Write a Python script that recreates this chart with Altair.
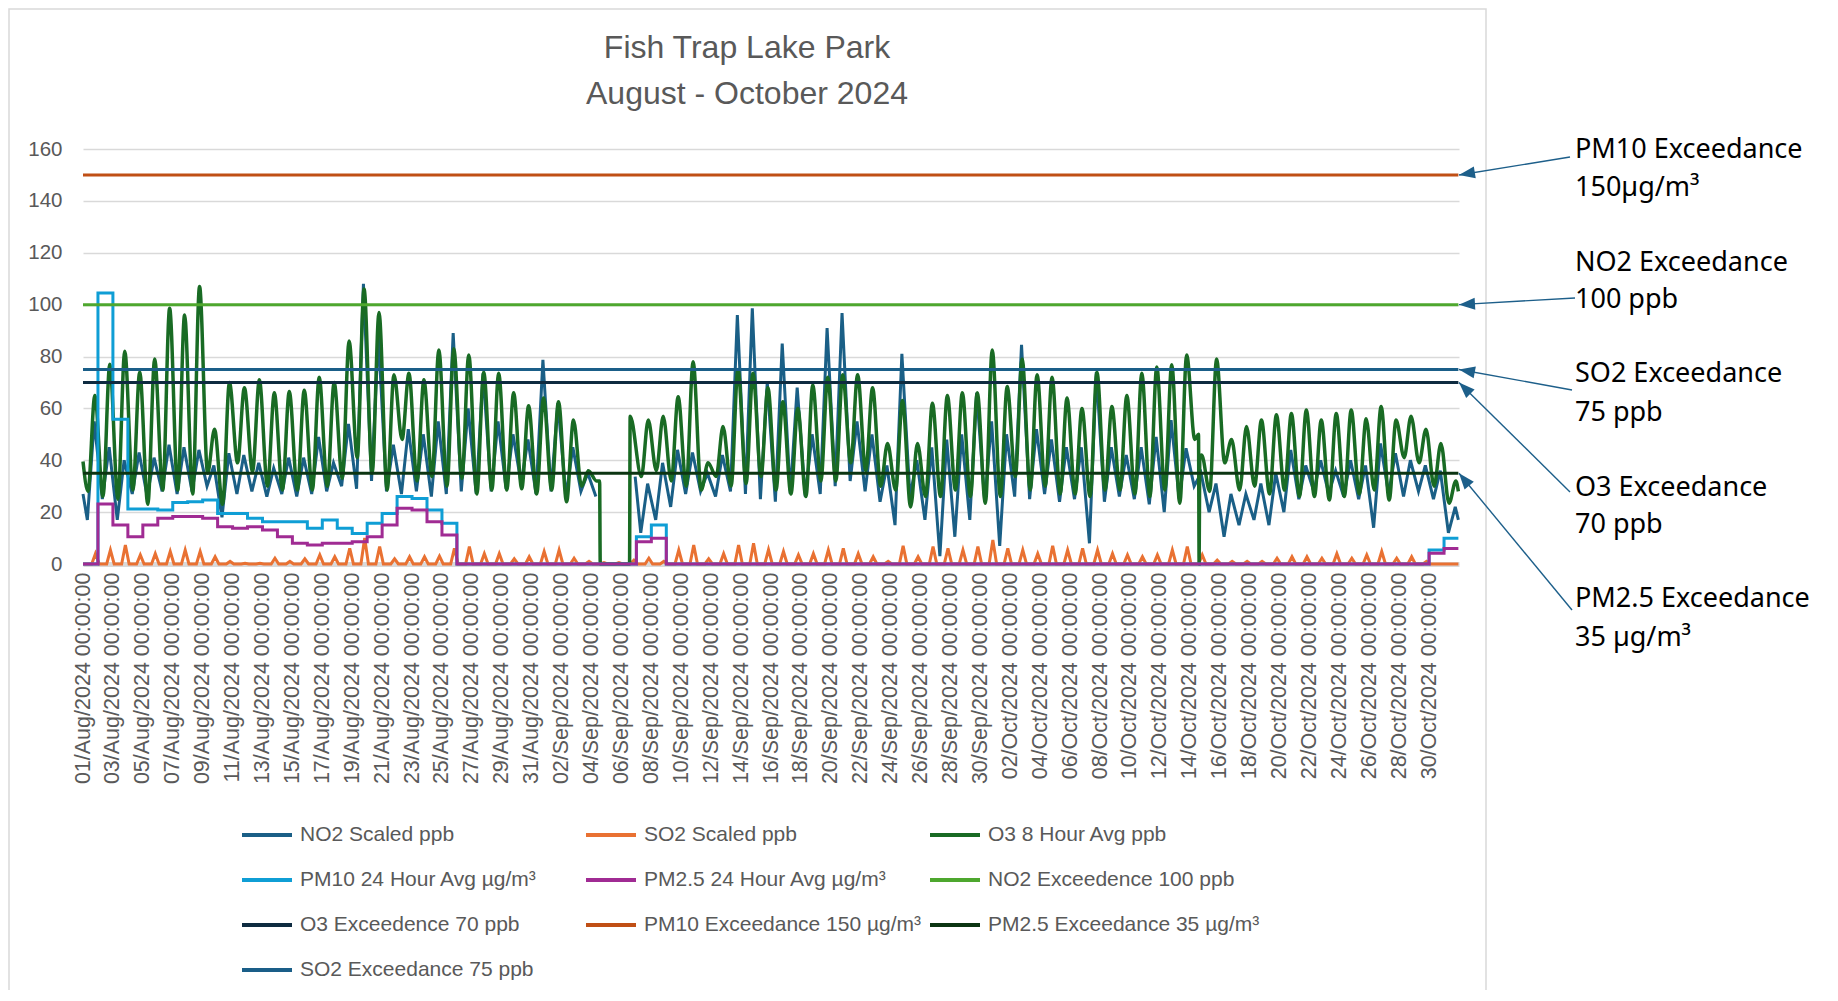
import math
import altair as alt
import pandas as pd

# ------------------------------------------------------------------ data
series_names = [
    "NO2 Scaled ppb", "SO2 Scaled ppb", "O3 8 Hour Avg ppb",
    "PM10 24 Hour Avg µg/m³", "PM2.5 24 Hour Avg µg/m³", "NO2 Exceedence 100 ppb",
    "O3 Exceedence 70 ppb", "PM10 Exceedance 150 µg/m³", "PM2.5 Exceedance 35 µg/m³",
    "SO2 Exceedance 75 ppb",
]
series_colors = [
    "#1A5F86", "#E97132", "#196B24",
    "#0F9ED5", "#A02B93", "#4EA72E",
    "#0E2B40", "#C04F15", "#0C3512",
    "#1A5E88",
]

# daily readings, index 0 = 01 Aug 2024 ... 91 = 31 Oct 2024
o3_peak = [65, 77, 82, 74, 79, 98.6, 96, 107, 52, 70, 68, 71, 66, 66.5, 67, 72, 70, 86, 106, 97,
           73, 73.5, 71, 82.5, 83, 80.6, 74, 73.5, 66, 61, 64, 62.6, 55.5, 36, None, None, None,
           55.5, 57, 64.5, 78, 39, 53, 75, 73.5, 68, 62.6, 60, 69, 72, 73, 73, 68, 46.5, 63, 46.5,
           62, 65, 66, 66, 82.5, 68.4, 79, 73, 72, 64, 60, 74, 60.7, 65, 73.5, 76, 76.8, 80.6, 42,
           79, 48, 53, 55.5, 57.5, 58, 59.4, 55.5, 58, 59.4, 56, 60.7, 55.5, 57, 52, 46.5, 32]
o3_trough = [28, 26, 25, 28.5, 23, 28.5, 28.5, 27, 35, 23, 39, 35.6, 30, 28.5, 28.5, 28.5, 30, 33, 41,
             35, 28.5, 48, 32, 33.7, 30, 33, 27, 28.5, 28.5, 29, 27, 28.5, 24, 30, 32, None, None,
             33.7, 36, 32, 30, 28.5, 33.7, 30, 31, 33.7, 28.5, 27, 26, 32, 32, 39, 36, 30, 28.5, 22,
             26, 26, 28.5, 26, 23.4, 26, 33.7, 28.5, 30, 27, 27, 26, 28.5, 28.5, 27, 26, 28.5, 23.4,
             48, 28, 39, 28.5, 30, 27, 28.5, 26, 26, 24.7, 26, 27, 28.5, 24.7, 41, 39, 30, 23.4]
o3_events = [("2024-08-01 00:00", 39.5), ("2024-09-04 13:00", 32), ("2024-09-04 14:00", 0),
             ("2024-09-06 13:00", 0), ("2024-09-06 14:00", 57), ("2024-10-14 14:00", 50),
             ("2024-10-14 15:00", 0), ("2024-10-14 16:00", 41), ("2024-10-31 23:00", 28)]

no2_peak = [55, 45, 40, 43, 41, 46, 45, 44, 38, 42.7, 42, 39, 37, 41, 41, 49, 39, 54, 108, 88,
            46, 52, 50, 55, 89, 60, 73.5, 55, 50, 48, 78.7, 62, 45, 35, None, None, None,
            31, 39, 44, 43, 35, 42, 96, 98.6, 70, 85, 68, 50, 91, 96.7, 55, 50, 38, 81, 40,
            45, 48, 50, 66, 55, 50, 84.5, 52, 48, 45, 45, 74, 45, 42, 45, 49, 55.5, 44.6, 35,
            31, 27, 27, 31, 35, 44, 38, 40, 36, 40, 38, 46.5, 42.7, 40, 38, 36, 22]
no2_trough = [17, 25, 17, 27, 26, 28, 27, 28, 30, 18, 27, 28, 26, 27, 26, 27, 28, 30, 29, 32,
              28, 27, 28, 26, 27, 28, 27, 28, 29, 31, 27, 28, 26, 28, 26, None, None,
              12, 17, 22, 27, 28, 26, 28, 27, 25, 24, 27, 26, 27, 30, 32, 28, 24, 15, 26,
              17, 3, 10.5, 17, 24, 7, 26, 25, 27, 24, 25, 8, 24, 26, 25, 23, 20, 25, 30,
              20, 10.5, 15, 17, 15, 20, 25, 28, 27, 26, 25, 14, 27, 26, 28, 25, 12]
no2_events = [("2024-08-01 00:00", 27), ("2024-09-06 22:00", 33.7), ("2024-10-31 23:00", 17)]

so2_peak = [4, 5.4, 7.3, 3.5, 4, 4.8, 5.4, 4.8, 2.8, 1, 0.3, 0.3, 2.2, 1, 2, 3.5, 2.8, 6, 10, 6.7,
            2, 2.8, 2.8, 3, 6, 6.7, 4, 4, 2, 2.8, 4.8, 5.4, 2.2, 1, 0.5, 0.5, 1.5, 2.2, 1, 5.4,
            7.3, 2, 4, 7.3, 8, 5.5, 4.8, 3.5, 4, 5.4, 6, 4, 2.8, 1, 7, 2.8, 6.7, 6, 5.4, 6.7,
            9.3, 6, 5.4, 4, 7, 5.4, 6, 5.4, 4, 3.5, 2.8, 3.5, 5.4, 6.7, 3.5, 1.5, 1, 1, 1, 2.2,
            2.8, 2.8, 2.2, 4, 2.2, 3.5, 4.8, 2.2, 2.8, 1, 0, 0]

pm10_daily = [0, 104.5, 55.8, 21.2, 21.2, 20.8, 23.7, 24, 24.7, 19.5, 19.5, 17.6, 16.3, 16.3, 16.3,
              13.8, 17, 13.8, 11.8, 15.7, 19.5, 26, 25.3, 20.8, 15.7,
              0, 0, 0, 0, 0, 0, 0, 0, 0, 0, 0, 0,
              10.5, 15,
              0, 0, 0, 0, 0, 0, 0, 0, 0, 0, 0, 0, 0, 0, 0, 0, 0, 0, 0, 0, 0, 0, 0, 0, 0, 0,
              0, 0, 0, 0, 0, 0, 0, 0, 0, 0, 0, 0, 0, 0, 0, 0, 0, 0, 0, 0, 0, 0, 0, 0, 0,
              5.4, 9.9]
pm25_daily = [0, 23.1, 15, 10.5, 15, 17.6, 18.3, 18.3, 17.6, 14.4, 13.8, 14.4, 13.1, 10.5, 8,
              7.3, 8, 8, 8.6, 10.5, 15, 21.5, 20.8, 16.3, 11.2,
              0, 0, 0, 0, 0, 0, 0, 0, 0, 0, 0, 0,
              8.6, 9.9,
              0, 0, 0, 0, 0, 0, 0, 0, 0, 0, 0, 0, 0, 0, 0, 0, 0, 0, 0, 0, 0, 0, 0, 0, 0, 0,
              0, 0, 0, 0, 0, 0, 0, 0, 0, 0, 0, 0, 0, 0, 0, 0, 0, 0, 0, 0, 0, 0, 0, 0, 0,
              4.1, 6.0]

threshold_values = [100, 70, 150, 35, 75]   # NO2, O3, PM10, PM2.5, SO2 exceedance lines
y_ticks = [0, 20, 40, 60, 80, 100, 120, 140, 160]
tick_dates = list(pd.date_range("2024-08-01", "2024-10-30", freq="2D"))

annotations = [  # two text lines, threshold it points to
    ("PM10 Exceedance", "150µg/m³", 150),
    ("NO2 Exceedance", "100 ppb", 100),
    ("SO2 Exceedance", "75 ppb", 75),
    ("O3 Exceedance", "70 ppb", 70),
    ("PM2.5 Exceedance", "35 µg/m³", 35),
]

# ------------------------------------------------------------------ layout
W, H = 1376, 415
PAD = {"left": 75, "top": 141, "right": 368, "bottom": 426}
ann_text_x = 1492
ann_line_y = [(1, 38.5), (113.6, 151), (225, 263.6), (338.6, 376), (450, 488.7)]
ann_tail = [(1487, 8), (1492, 149), (1489, 241), (1487, 343), (1489, 461)]
ARROW = "#1D5F8A"
GREY = "#595959"
FONT = "Liberation Sans"

T0 = pd.Timestamp("2024-08-01 00:00")
T_LAST = pd.Timestamp("2024-10-31 23:00")
T_END = pd.Timestamp("2024-11-01 00:00")


def at(day, hour):
    return T0 + pd.Timedelta(days=day, hours=hour)


def frame(rows, name, seg=None):
    rows = sorted(rows, key=lambda r: r[0])
    df = pd.DataFrame(rows, columns=["t", "v"])
    df["series"] = name
    if seg is not None:
        df["seg"] = [seg(t) for t in df["t"]]
    return df


# O3
rows = []
for d in range(92):
    if o3_trough[d] is not None:
        rows.append((at(d, 8), o3_trough[d]))
    if o3_peak[d] is not None:
        rows.append((at(d, 19), o3_peak[d]))
rows += [(pd.Timestamp(t), v) for t, v in o3_events]
df_o3 = frame(rows, series_names[2])

# NO2 (gap 04-06 Sep)
rows = []
for d in range(92):
    if no2_trough[d] is not None:
        rows.append((at(d, 7), no2_trough[d]))
    if no2_peak[d] is not None:
        rows.append((at(d, 18), no2_peak[d]))
rows += [(pd.Timestamp(t), v) for t, v in no2_events]
gap = pd.Timestamp("2024-09-05 12:00")
df_no2 = frame(rows, series_names[0], seg=lambda t: "a" if t < gap else "b")

# SO2
rows = [(T0, 0), (T_LAST, 0)]
for d in range(92):
    rows += [(at(d, 14), 0), (at(d, 20), so2_peak[d])]
    if d < 91:
        rows.append((at(d + 1, 2), 0))
df_so2 = frame(rows, series_names[1])

# PM daily averages
df_pm10 = frame([(at(d, 0), v) for d, v in enumerate(pm10_daily)] + [(T_LAST, pm10_daily[-1])],
                series_names[3])
df_pm25 = frame([(at(d, 0), v) for d, v in enumerate(pm25_daily)] + [(T_LAST, pm25_daily[-1])],
                series_names[4])

thr_names = [series_names[5], series_names[6], series_names[7], series_names[8], series_names[9]]
df_thr = [frame([(T0, v), (T_LAST, v)], n) for n, v in zip(thr_names, threshold_values)]

# ------------------------------------------------------------------ encodings
x_enc = alt.X(
    "t:T",
    scale=alt.Scale(domain=[alt.DateTime(year=2024, month=8, date=1),
                            alt.DateTime(year=2024, month=11, date=1)]),
    axis=alt.Axis(
        values=[alt.DateTime(year=d.year, month=d.month, date=d.day) for d in tick_dates],
        format="%d/%b/%Y %H:%M:%S", labelAngle=270, labelAlign="right",
        labelBaseline="middle", labelFontSize=21.5, labelFont=FONT, labelColor=GREY,
        labelPadding=8, labelOverlap=False, labelFlush=False, labelLimit=400,
        labelSeparation=0, labelBound=False, ticks=False, grid=False,
        domainColor="#D9D9D9", domainWidth=5, title=None,
    ),
)
y_enc = alt.Y(
    "v:Q",
    scale=alt.Scale(domain=[0, 160], nice=False),
    axis=alt.Axis(values=y_ticks, labelFontSize=20.5, labelFont=FONT, labelColor=GREY,
                  labelPadding=21, ticks=False, domain=False, grid=True,
                  gridColor="#D9D9D9", gridWidth=1.5, title=None),
)
color_enc = alt.Color(
    "series:N",
    scale=alt.Scale(domain=series_names, range=series_colors),
    legend=alt.Legend(
        title=None, orient="none", legendX=157, legendY=659, columns=3, direction="horizontal",
        symbolType="stroke", symbolSize=2500, symbolStrokeWidth=4,
        labelFont=FONT, labelFontSize=21, labelColor=GREY, labelOffset=6,
        labelLimit=0, rowPadding=8, columnPadding=0, gridAlign="all", padding=0,
    ),
)


def line(df, width=3, interp="linear", detail=False):
    enc = dict(x=x_enc, y=y_enc, color=color_enc)
    if detail:
        enc["detail"] = alt.Detail("seg:N")
    return alt.Chart(df).mark_line(strokeWidth=width, interpolate=interp).encode(**enc)


layers = [
    line(df_no2, 3, "linear", detail=True),
    line(df_so2, 3, "linear"),
    line(df_o3, 3.5, "monotone"),
    line(df_pm10, 3, "step-after"),
    line(df_pm25, 3, "step-after"),
]
layers += [line(df, 3) for df in df_thr]

one = pd.DataFrame({"k": [0]})

# chart area border
layers.append(alt.Chart(one).mark_rect(fillOpacity=0, stroke="#D9D9D9", strokeWidth=1.5).encode(
    x=alt.value(-74), x2=alt.value(1403), y=alt.value(-140), y2=alt.value(870)))

# title
for txt, ty in [("Fish Trap Lake  Park", -101), ("August - October 2024", -55)]:
    layers.append(alt.Chart(one).mark_text(font=FONT, fontSize=32, color=GREY, align="center",
                                           baseline="middle").encode(
        x=alt.value(664), y=alt.value(ty), text=alt.value(txt)))

# annotations with arrows
for (l1, l2, thr), (y1, y2), (tx, ty) in zip(annotations, ann_line_y, ann_tail):
    for txt, yy in [(l1, y1), (l2, y2)]:
        layers.append(alt.Chart(one).mark_text(font="Noto Sans", fontSize=27, color="#000000",
                                               align="left", baseline="middle").encode(
            x=alt.value(ann_text_x), y=alt.value(yy), text=alt.value(txt)))
    head = pd.DataFrame({"t": [T_END], "v": [thr]})
    hx, hy = W, H * (1 - thr / 160)
    ang = math.degrees(math.atan2(-(hy - ty), -(hx - tx))) % 360
    layers.append(alt.Chart(head).mark_rule(color=ARROW, strokeWidth=1.4).encode(
        x=x_enc, y=y_enc, x2=alt.value(tx), y2=alt.value(ty)))
    layers.append(alt.Chart(head).mark_point(shape="M0,0L2,-0.75L2,0.75Z", filled=True, size=256,
                                             angle=ang, color=ARROW, opacity=1, strokeWidth=0).encode(
        x=x_enc, y=y_enc))

chart = alt.layer(*layers).properties(
    width=W, height=H, padding=PAD, autosize=alt.AutoSizeParams(type="none"),
).configure_view(stroke=None).configure_axis(labelOverlap=False)

chart.save("out.html", embed_options={"renderer": "svg", "actions": False})
